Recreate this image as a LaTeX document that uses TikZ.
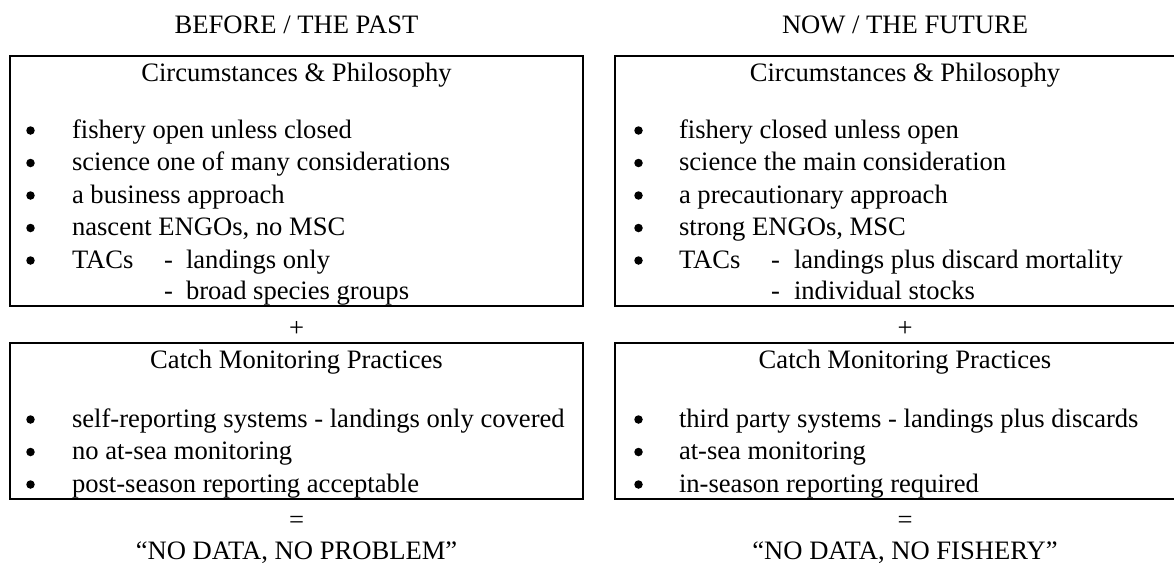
\documentclass[tikz,border=0pt]{standalone}
\usepackage{fontspec}
\setmainfont{Liberation Serif}
\begin{document}
\begin{tikzpicture}[x=1pt,y=-1pt,
  every node/.style={inner sep=0pt, outer sep=0pt},
  txt/.style={anchor=base west, font=\fontsize{26.6pt}{32.5pt}\selectfont},
  ctxt/.style={anchor=base, font=\fontsize{26.6pt}{32.5pt}\selectfont},
  box/.style={draw, line width=2pt, anchor=north west},
  bul/.style={circle, fill=black, minimum size=8.5pt}]
\useasboundingbox (0,0) rectangle (1174,565);
% ---------------- left column ----------------
\node[ctxt] (lhead) at (296.5,33) {BEFORE / THE PAST};
\node[box, minimum width=573pt, minimum height=250pt] (lbox1) at (10,56) {};
\node[ctxt] (lt1) at (296.5,81) {Circumstances \& Philosophy};
\node[bul] (lb1) at (30.5,130.5) {};
\node[txt] (la1) at (72,138) {fishery open unless closed};
\node[bul] (lb2) at (30.5,163) {};
\node[txt] (la2) at (72,170.5) {science one of many considerations};
\node[bul] (lb3) at (30.5,195.5) {};
\node[txt] (la3) at (72,203) {a business approach};
\node[bul] (lb4) at (30.5,228) {};
\node[txt] (la4) at (72,235.5) {nascent ENGOs, no MSC};
\node[bul] (lb5) at (30.5,260.5) {};
\node[txt] (la5) at (72,268) {TACs};
\node[txt] (ld5) at (164,268) {-};
\node[txt] (le5) at (186,268) {landings only};
\node[txt] (ld6) at (164,299) {-};
\node[txt] (le6) at (186,299) {broad species groups};
\node[ctxt] (lplus) at (296.5,336) {+};
\node[box, minimum width=573pt, minimum height=156pt] (lbox2) at (10,343) {};
\node[ctxt] (lt2) at (296.5,368) {Catch Monitoring Practices};
\node[bul] (lc1) at (30.5,419.5) {};
\node[txt] (lm1) at (72,427) {self-reporting systems - landings only covered};
\node[bul] (lc2) at (30.5,452) {};
\node[txt] (lm2) at (72,459.5) {no at-sea monitoring};
\node[bul] (lc3) at (30.5,484.5) {};
\node[txt] (lm3) at (72,492) {post-season reporting acceptable};
\node[ctxt] (leq) at (296.5,528) {=};
\node[ctxt] (lres) at (296.5,559) {“NO DATA, NO PROBLEM”};
% ---------------- right column ----------------
\node[ctxt] (rhead) at (905,33) {NOW / THE FUTURE};
\node[box, minimum width=580pt, minimum height=250pt] (rbox1) at (615,56) {};
\node[ctxt] (rt1) at (905,81) {Circumstances \& Philosophy};
\node[bul] (rb1) at (638.5,130.5) {};
\node[txt] (ra1) at (679,138) {fishery closed unless open};
\node[bul] (rb2) at (638.5,163) {};
\node[txt] (ra2) at (679,170.5) {science the main consideration};
\node[bul] (rb3) at (638.5,195.5) {};
\node[txt] (ra3) at (679,203) {a precautionary approach};
\node[bul] (rb4) at (638.5,228) {};
\node[txt] (ra4) at (679,235.5) {strong ENGOs, MSC};
\node[bul] (rb5) at (638.5,260.5) {};
\node[txt] (ra5) at (679,268) {TACs};
\node[txt] (rd5) at (771,268) {-};
\node[txt] (re5) at (794,268) {landings plus discard mortality};
\node[txt] (rd6) at (771,299) {-};
\node[txt] (re6) at (794,299) {individual stocks};
\node[ctxt] (rplus) at (905,336) {+};
\node[box, minimum width=580pt, minimum height=156pt] (rbox2) at (615,343) {};
\node[ctxt] (rt2) at (905,368) {Catch Monitoring Practices};
\node[bul] (rc1) at (638.5,419.5) {};
\node[txt] (rm1) at (679,427) {third party systems - landings plus discards};
\node[bul] (rc2) at (638.5,452) {};
\node[txt] (rm2) at (679,459.5) {at-sea monitoring};
\node[bul] (rc3) at (638.5,484.5) {};
\node[txt] (rm3) at (679,492) {in-season reporting required};
\node[ctxt] (req) at (905,528) {=};
\node[ctxt] (rres) at (905,559) {“NO DATA, NO FISHERY”};
\end{tikzpicture}
\end{document}
